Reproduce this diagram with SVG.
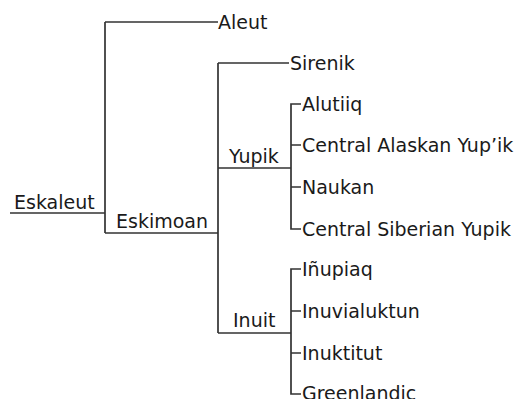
<svg xmlns="http://www.w3.org/2000/svg" width="521" height="399" viewBox="0 0 521 399">
<style>
text{font-family:"DejaVu Sans",Verdana,sans-serif;font-size:19px;fill:#1a1a1a}
.c{fill:none;stroke:#333;stroke-width:1.7}
</style>
<rect width="521" height="399" fill="#fff"/>
<g id="connectors">
<path class="c" d="M10,213H105M105,22V233M105,22H218M105,233H218"/>
<path class="c" d="M218,63V333M218,63H289M218,168H291M218,333H291"/>
<path class="c" d="M301,104H291V229H301M291,145H301M291,187H301"/>
<path class="c" d="M301,269H291V394H301M291,311H301M291,353H301"/>
</g>
<g id="eskaleut"><text x="14" y="209">Eskaleut</text></g>
<g id="aleut"><text x="218" y="29">Aleut</text></g>
<g id="eskimoan"><text x="116" y="228">Eskimoan</text></g>
<g id="sirenik"><text x="290" y="70">Sirenik</text></g>
<g id="yupik"><text x="229" y="163">Yupik</text></g>
<g id="alutiiq"><text x="302" y="111">Alutiiq</text></g>
<g id="central-alaskan"><text x="302" y="152">Central Alaskan Yup’ik</text></g>
<g id="naukan"><text x="302" y="194">Naukan</text></g>
<g id="central-siberian"><text x="302" y="236">Central Siberian Yupik</text></g>
<g id="inuit"><text x="233" y="327">Inuit</text></g>
<g id="inupiaq"><text x="302" y="276">Iñupiaq</text></g>
<g id="inuvialuktun"><text x="302" y="318">Inuvialuktun</text></g>
<g id="inuktitut"><text x="302" y="360">Inuktitut</text></g>
<g id="greenlandic"><text x="302" y="400">Greenlandic</text></g>
</svg>
